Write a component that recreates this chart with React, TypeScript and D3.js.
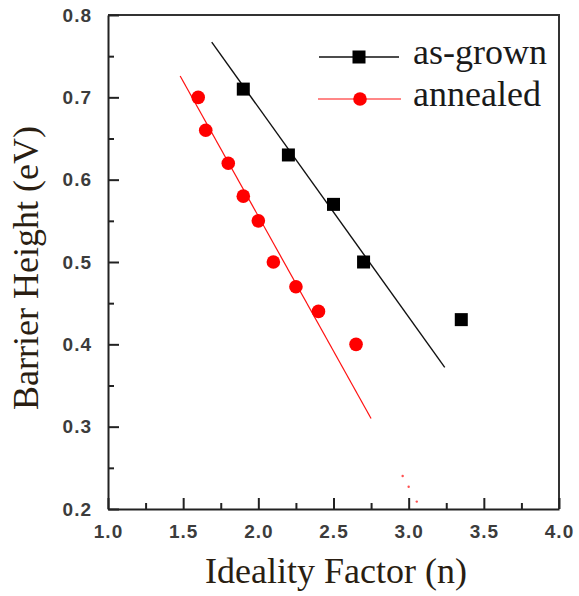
import * as d3 from "d3";
import React, { useEffect, useRef } from "react";

// as-grown samples (black squares)
const asGrownX = [1.9, 2.2, 2.5, 2.7, 3.35];
const asGrownY = [0.71, 0.63, 0.57, 0.5, 0.43];
// annealed samples (red circles)
const annealedX = [1.6, 1.65, 1.8, 1.9, 2.0, 2.1, 2.25, 2.4, 2.65];
const annealedY = [0.7, 0.66, 0.62, 0.58, 0.55, 0.5, 0.47, 0.44, 0.4];
// linear fits, end points
const asGrownFitX = [1.69, 3.24];
const asGrownFitY = [0.767, 0.372];
const annealedFitX = [1.48, 2.75];
const annealedFitY = [0.726, 0.31];
// stray red specks near (3.0, 0.22)
const strayX = [2.96, 3.0, 3.054];
const strayY = [0.24, 0.227, 0.209];

const xTicks = [1.0, 1.5, 2.0, 2.5, 3.0, 3.5, 4.0];
const yTicks = [0.2, 0.3, 0.4, 0.5, 0.6, 0.7, 0.8];
const legendLabels = ["as-grown", "annealed"];

const App = () => {
  const svgRef = useRef(null);

  useEffect(() => {
    const W = 579,
      H = 596;
    const left = 108,
      right = 559,
      top = 15,
      bottom = 509;

    const svg = d3.select(svgRef.current).html("").attr("width", W).attr("height", H);

    const x = d3.scaleLinear().domain([1, 4]).range([left, right]);
    const y = d3.scaleLinear().domain([0.2, 0.8]).range([bottom, top]);

    const axisColor = "#222";
    const labelColor = "#3c3c3c";

    // frame: top and right
    svg
      .append("path")
      .attr("d", `M${left},${top}H${right}V${bottom}`)
      .attr("fill", "none")
      .attr("stroke", "#333")
      .attr("stroke-width", 2);

    // x axis major
    const xAxis = svg
      .append("g")
      .attr("transform", `translate(0,${bottom})`)
      .call(
        d3
          .axisBottom(x)
          .tickValues(xTicks)
          .tickSizeInner(-11)
          .tickSizeOuter(0)
          .tickPadding(16)
          .tickFormat(d3.format(".1f"))
      );
    // x axis minor
    svg
      .append("g")
      .attr("transform", `translate(0,${bottom})`)
      .call(
        d3
          .axisBottom(x)
          .tickValues(d3.range(1.25, 4, 0.5))
          .tickSizeInner(-6)
          .tickSizeOuter(0)
          .tickFormat(() => "")
      )
      .select(".domain")
      .remove();

    // y axis major
    const yAxis = svg
      .append("g")
      .attr("transform", `translate(${left},0)`)
      .call(
        d3
          .axisLeft(y)
          .tickValues(yTicks)
          .tickSizeInner(-11)
          .tickSizeOuter(0)
          .tickPadding(16)
          .tickFormat(d3.format(".1f"))
      );
    svg
      .append("g")
      .attr("transform", `translate(${left},0)`)
      .call(
        d3
          .axisLeft(y)
          .tickValues(d3.range(0.25, 0.8, 0.1))
          .tickSizeInner(-6)
          .tickSizeOuter(0)
          .tickFormat(() => "")
      )
      .select(".domain")
      .remove();

    svg.selectAll(".domain").attr("stroke", axisColor).attr("stroke-width", 2);
    svg.selectAll(".tick line").attr("stroke", axisColor).attr("stroke-width", 2);
    [xAxis, yAxis].forEach((a) =>
      a
        .selectAll(".tick text")
        .attr("fill", labelColor)
        .style("font-family", "'Liberation Sans', Arial, sans-serif")
        .style("font-weight", "bold")
        .style("font-size", "19px")
        .style("letter-spacing", "1px")
    );
    xAxis.selectAll(".tick text").attr("dy", "0.71em");

    // fit lines
    const line = d3
      .line()
      .x((d) => x(d[0]))
      .y((d) => y(d[1]));
    svg
      .append("path")
      .attr("d", line(d3.zip(asGrownFitX, asGrownFitY)))
      .attr("stroke", "#111")
      .attr("stroke-width", 1.4)
      .attr("fill", "none");
    svg
      .append("path")
      .attr("d", line(d3.zip(annealedFitX, annealedFitY)))
      .attr("stroke", "#ff1010")
      .attr("stroke-width", 1.2)
      .attr("fill", "none");

    // stray specks
    svg
      .selectAll(".stray")
      .data(d3.zip(strayX, strayY))
      .enter()
      .append("circle")
      .attr("cx", (d) => x(d[0]))
      .attr("cy", (d) => y(d[1]))
      .attr("r", 1.2)
      .attr("fill", "#ff5050");

    // points
    const sq = 13;
    svg
      .selectAll(".sq")
      .data(d3.zip(asGrownX, asGrownY))
      .enter()
      .append("rect")
      .attr("x", (d) => x(d[0]) - sq / 2)
      .attr("y", (d) => y(d[1]) - sq / 2)
      .attr("width", sq)
      .attr("height", sq)
      .attr("fill", "#000");
    svg
      .selectAll(".dot")
      .data(d3.zip(annealedX, annealedY))
      .enter()
      .append("circle")
      .attr("cx", (d) => x(d[0]))
      .attr("cy", (d) => y(d[1]))
      .attr("r", 6.8)
      .attr("fill", "#ff0000");

    // legend
    const lg = svg.append("g");
    const ly = [57, 99];
    lg.append("line")
      .attr("x1", 319)
      .attr("x2", 399)
      .attr("y1", ly[0])
      .attr("y2", ly[0])
      .attr("stroke", "#111")
      .attr("stroke-width", 1.4);
    lg.append("rect")
      .attr("x", 359 - sq / 2)
      .attr("y", ly[0] - sq / 2)
      .attr("width", sq)
      .attr("height", sq)
      .attr("fill", "#000");
    lg.append("line")
      .attr("x1", 318)
      .attr("x2", 401)
      .attr("y1", ly[1])
      .attr("y2", ly[1])
      .attr("stroke", "#ff1010")
      .attr("stroke-width", 1.2);
    lg.append("circle").attr("cx", 360).attr("cy", ly[1]).attr("r", 6.8).attr("fill", "#ff0000");
    lg.selectAll(".lt")
      .data(legendLabels)
      .enter()
      .append("text")
      .attr("x", 413)
      .attr("y", (d, i) => ly[i] + 7)
      .style("font-family", "'Liberation Serif', 'Times New Roman', serif")
      .style("font-size", "36px")
      .attr("fill", "#1a1a1a")
      .text((d) => d);

    // axis titles
    svg
      .append("text")
      .attr("x", (203 + 469) / 2)
      .attr("y", 583)
      .attr("text-anchor", "middle")
      .style("font-family", "'Liberation Serif', 'Times New Roman', serif")
      .style("font-size", "36px")
      .attr("fill", "#2a1e12")
      .text("Ideality Factor (n)");
    svg
      .append("text")
      .attr("transform", `translate(38,268) rotate(-90)`)
      .attr("text-anchor", "middle")
      .style("font-family", "'Liberation Serif', 'Times New Roman', serif")
      .style("font-size", "36px")
      .attr("fill", "#2a1e12")
      .text("Barrier Height (eV)");
  }, []);

  return <svg ref={svgRef} style={{ position: "absolute", left: 0, top: 0, background: "#fff" }}></svg>;
};

export default App;
